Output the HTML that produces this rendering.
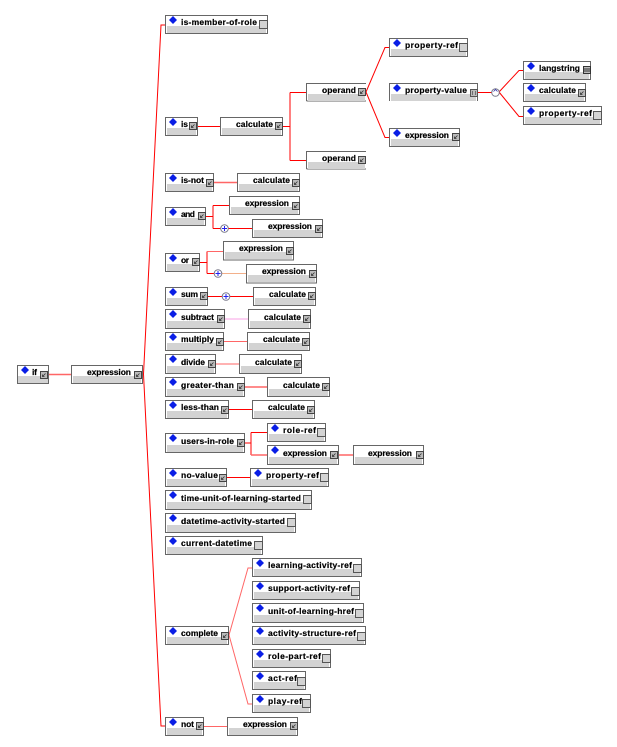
<!DOCTYPE html>
<html><head><meta charset="utf-8"><style>
html,body{margin:0;padding:0;background:#fff}
svg{display:block;filter:blur(.35px)}
text{font:bold 8.5px "Liberation Sans",sans-serif;fill:#000;stroke:#000;stroke-width:.2px}
.n{fill:#fff;stroke:#666;stroke-width:1}
.g{fill:#d3d3d3}
.c{fill:none;stroke:#f00;stroke-width:1}
.p{fill:none;stroke:#f66;stroke-width:1.5}
</style></head><body>
<svg width="617" height="747" viewBox="0 0 617 747" xmlns="http://www.w3.org/2000/svg">
<defs>
<path id="d" d="M0-4L4 0L0 4L-4 0Z" fill="#0a1ee6"/>
<g id="b"><rect x=".5" y=".5" width="7" height="7" fill="#bbb" stroke="#444"/><path d="M2.5 5.5L5.5 2.5M2.5 3.5V5.5H4.5" fill="none" stroke="#333" stroke-width=".8"/></g>
<g id="l"><rect x=".5" y=".5" width="8" height="8" fill="#d3d3d3" stroke="#555"/></g>
<g id="o"><circle r="3.8" fill="#fff" stroke="#778"/><path d="M-2.5 0H2.5M0-2.5V2.5" stroke="#22e" stroke-width="1"/></g>
</defs>

<!-- connectors -->
<path class="c" d="M165 25H161L143.5 374L161 726H165"/>
<path class="p" d="M48 374.500H71"/>
<path class="c" d="M198 126.500H220M283 126.500H290M290 92.500H306M290 160.500H306M290 92.500V160.500"/>
<path class="c" d="M366 92L385 47.500H389M366 92L385 137.500H389"/>
<path class="c" d="M478 92.500H492"/>
<path class="c" d="M499 92L519 70.500H523M499 92L519 116.500H523"/>
<path class="p" d="M214 182.500H237"/>
<path class="c" d="M206 216.500H213M213 205.500V228.500M213 205.500H229M213 228.500H252"/>
<path class="c" d="M200 262.500H207M207 251.500V273.500M207 273.500H214"/>
<path fill="none" stroke="#f66" d="M207 251.500H223"/>
<path fill="none" stroke="#f3b08a" d="M222 273.500H246"/>
<path class="c" d="M208 296.500H253"/>
<path fill="none" stroke="#fbc0ee" stroke-width="1.500" d="M225 319H248"/>
<path fill="none" stroke="#f66" d="M224 341.500H247"/>
<path fill="none" stroke="#f66" d="M216 364H239"/>
<path class="p" d="M245 387H267"/>
<path class="c" d="M229 409.500H252"/>
<path class="c" d="M245 443H251M251 432.500V455M251 432.500H267"/>
<path class="p" d="M251 455H267M339 455H353"/>
<path class="c" d="M227 477.500H250"/>
<path fill="none" stroke="#f66" d="M229 635L248 568H252M229 635L248 704H252"/>
<path fill="none" stroke="#f66" d="M204 726.500H227"/>
<use href="#o" x="224.500" y="228.500"/>
<use href="#o" x="218" y="273.500"/>
<use href="#o" x="226" y="296.500"/>
<circle cx="495.500" cy="92.500" r="3.800" fill="#fff" stroke="#778"/>
<path d="M493.500 91.500L495.500 89.500L497.500 91.500" fill="none" stroke="#33a" stroke-width=".8"/>

<!-- nodes -->
<g transform="translate(17,365)"><rect class="n" x=".5" y=".5" width="31" height="18"/><rect class="g" x="1" y="11" width="30" height="7"/><use href="#d" x="8" y="5"/><text x="15" y="10" textLength="5">if</text><use href="#b" x="23" y="6"/></g>
<g transform="translate(71,365)"><rect class="n" x=".5" y=".5" width="71" height="18"/><rect class="g" x="2" y="11" width="68" height="7"/><text x="16" y="10" textLength="44">expression</text><use href="#b" x="63" y="6"/></g>

<g transform="translate(165,15)"><rect class="n" x=".5" y=".5" width="102" height="18"/><rect class="g" x="2" y="11" width="99" height="7"/><use href="#d" x="8" y="5"/><text x="16" y="10" textLength="76">is-member-of-role</text><use href="#l" x="94" y="5"/></g>
<g transform="translate(165,117)"><rect class="n" x=".5" y=".5" width="32" height="18"/><rect class="g" x="2" y="11" width="29" height="7"/><use href="#d" x="8" y="5"/><text x="16" y="10" textLength="7">is</text><use href="#b" x="24" y="5"/></g>
<g transform="translate(220,117)"><rect class="n" x=".5" y=".5" width="62" height="18"/><rect class="g" x="2" y="11" width="59" height="7"/><text x="16" y="10" textLength="37">calculate</text><use href="#b" x="55" y="5"/></g>
<g transform="translate(306,83)"><path class="n" d="M60 .5H.5V18M60 18H.5"/><rect class="g" x="2" y="11" width="57" height="7"/><text x="16" y="10" textLength="34">operand</text><use href="#b" x="52" y="5"/></g>
<g transform="translate(306,151)"><path class="n" d="M60 .5H.5V18M60 18H.5"/><rect class="g" x="2" y="11" width="57" height="7"/><text x="16" y="10" textLength="34">operand</text><use href="#b" x="52" y="5"/></g>
<g transform="translate(389,38)"><rect class="n" x=".5" y=".5" width="78" height="18"/><rect class="g" x="2" y="11" width="75" height="7"/><use href="#d" x="8" y="5"/><text x="16" y="10" textLength="53">property-ref</text><use href="#l" x="70" y="5"/></g>
<g transform="translate(389,83)"><path class="n" d="M88.500 18V.5H.5V18"/><rect class="g" x="2" y="11" width="85" height="7"/><use href="#d" x="8" y="5"/><text x="16" y="10" textLength="62">property-value</text><rect x="81.500" y="6.500" width="7" height="7" fill="#bbb" stroke="#555"/><path d="M83 9h1M86 9h1M83 11h1M86 11h1" stroke="#222"/></g>
<g transform="translate(389,128)"><rect class="n" x=".5" y=".5" width="70" height="18"/><rect class="g" x="2" y="11" width="67" height="7"/><use href="#d" x="8" y="5"/><text x="16" y="10" textLength="44">expression</text><use href="#b" x="63" y="5"/></g>
<g transform="translate(523,61)"><rect class="n" x=".5" y=".5" width="67" height="18"/><rect class="g" x="2" y="11" width="64" height="7"/><use href="#d" x="8" y="5"/><text x="16" y="10" textLength="41">langstring</text><rect x="60.500" y="5.500" width="7" height="7" fill="#bbb" stroke="#333"/><path d="M60 8h8M60 10h8" stroke="#333"/></g>
<g transform="translate(523,83)"><rect class="n" x=".5" y=".5" width="62" height="18"/><rect class="g" x="2" y="11" width="59" height="7"/><use href="#d" x="8" y="5"/><text x="16" y="10" textLength="37">calculate</text><use href="#b" x="55" y="6"/></g>
<g transform="translate(523,106)"><rect class="n" x=".5" y=".5" width="78" height="18"/><rect class="g" x="2" y="11" width="75" height="7"/><use href="#d" x="8" y="5"/><text x="16" y="10" textLength="53">property-ref</text><use href="#l" x="70" y="5"/></g>

<g transform="translate(165,173)"><rect class="n" x=".5" y=".5" width="48" height="18"/><rect class="g" x="2" y="11" width="45" height="7"/><use href="#d" x="8" y="5"/><text x="16" y="10" textLength="23">is-not</text><use href="#b" x="41" y="6"/></g>
<g transform="translate(237,173)"><rect class="n" x=".5" y=".5" width="62" height="18"/><rect class="g" x="2" y="11" width="59" height="7"/><text x="16" y="10" textLength="37">calculate</text><use href="#b" x="55" y="6"/></g>
<g transform="translate(165,207)"><rect class="n" x=".5" y=".5" width="40" height="18"/><rect class="g" x="2" y="11" width="37" height="7"/><use href="#d" x="8" y="5"/><text x="16" y="10" textLength="14">and</text><use href="#b" x="33" y="5"/></g>
<g transform="translate(229,196)"><rect class="n" x=".5" y=".5" width="70" height="18"/><rect class="g" x="2" y="11" width="67" height="7"/><text x="16" y="10" textLength="44">expression</text><use href="#b" x="63" y="6"/></g>
<g transform="translate(252,219)"><rect class="n" x=".5" y=".5" width="70" height="18"/><rect class="g" x="2" y="11" width="67" height="7"/><text x="16" y="10" textLength="44">expression</text><use href="#b" x="63" y="6"/></g>
<g transform="translate(165,253)"><rect class="n" x=".5" y=".5" width="34" height="18"/><rect class="g" x="2" y="11" width="31" height="7"/><use href="#d" x="8" y="5"/><text x="16" y="10" textLength="8">or</text><use href="#b" x="27" y="5"/></g>
<g transform="translate(223,241)"><rect class="n" x=".5" y=".5" width="70" height="18.500"/><rect class="g" x="2" y="11" width="67" height="7"/><text x="16" y="10" textLength="44">expression</text><use href="#b" x="63" y="6"/></g>
<g transform="translate(246,264)"><rect class="n" x=".5" y=".5" width="70" height="18.500"/><rect class="g" x="2" y="11" width="67" height="7"/><text x="16" y="10" textLength="44">expression</text><use href="#b" x="63" y="6"/></g>
<g transform="translate(165,287)"><rect class="n" x=".5" y=".5" width="42" height="18"/><rect class="g" x="2" y="11" width="39" height="7"/><use href="#d" x="8" y="5"/><text x="16" y="10" textLength="17">sum</text><use href="#b" x="35" y="5"/></g>
<g transform="translate(253,287)"><rect class="n" x=".5" y=".5" width="62" height="18"/><rect class="g" x="2" y="11" width="59" height="7"/><text x="16" y="10" textLength="37">calculate</text><use href="#b" x="55" y="5"/></g>
<g transform="translate(165,309)"><rect class="n" x=".5" y=".5" width="59" height="19"/><rect class="g" x="2" y="12" width="56" height="7"/><use href="#d" x="8" y="5"/><text x="16" y="11" textLength="33">subtract</text><use href="#b" x="52" y="6"/></g>
<g transform="translate(248,309)"><rect class="n" x=".5" y=".5" width="62" height="19"/><rect class="g" x="2" y="12" width="59" height="7"/><text x="16" y="11" textLength="37">calculate</text><use href="#b" x="55" y="6"/></g>
<g transform="translate(165,332)"><rect class="n" x=".5" y=".5" width="58" height="18"/><rect class="g" x="2" y="11" width="55" height="7"/><use href="#d" x="8" y="5"/><text x="16" y="10" textLength="33">multiply</text><use href="#b" x="51" y="6"/></g>
<g transform="translate(247,332)"><rect class="n" x=".5" y=".5" width="62" height="18"/><rect class="g" x="2" y="11" width="59" height="7"/><text x="16" y="10" textLength="37">calculate</text><use href="#b" x="55" y="6"/></g>
<g transform="translate(165,354)"><rect class="n" x=".5" y=".5" width="50" height="19"/><rect class="g" x="2" y="12" width="47" height="7"/><use href="#d" x="8" y="5"/><text x="16" y="11" textLength="24">divide</text><use href="#b" x="43" y="6"/></g>
<g transform="translate(239,354)"><rect class="n" x=".5" y=".5" width="62" height="19"/><rect class="g" x="2" y="12" width="59" height="7"/><text x="16" y="11" textLength="37">calculate</text><use href="#b" x="55" y="6"/></g>
<g transform="translate(165,377)"><rect class="n" x=".5" y=".5" width="79" height="19"/><rect class="g" x="2" y="12" width="76" height="7"/><use href="#d" x="8" y="5"/><text x="16" y="11" textLength="53">greater-than</text><use href="#b" x="72" y="6"/></g>
<g transform="translate(267,377)"><rect class="n" x=".5" y=".5" width="62" height="19"/><rect class="g" x="2" y="12" width="59" height="7"/><text x="16" y="11" textLength="37">calculate</text><use href="#b" x="55" y="6"/></g>
<g transform="translate(165,400)"><rect class="n" x=".5" y=".5" width="63" height="18"/><rect class="g" x="2" y="11" width="60" height="7"/><use href="#d" x="8" y="5"/><text x="16" y="10" textLength="38">less-than</text><use href="#b" x="56" y="6"/></g>
<g transform="translate(252,400)"><rect class="n" x=".5" y=".5" width="62" height="18"/><rect class="g" x="2" y="11" width="59" height="7"/><text x="16" y="10" textLength="37">calculate</text><use href="#b" x="55" y="6"/></g>
<g transform="translate(165,433)"><rect class="n" x=".5" y=".5" width="79" height="19"/><rect class="g" x="2" y="12" width="76" height="7"/><use href="#d" x="8" y="5"/><text x="16" y="11" textLength="53">users-in-role</text><use href="#b" x="72" y="6"/></g>
<g transform="translate(267,423)"><rect class="n" x=".5" y=".5" width="58" height="18"/><rect class="g" x="2" y="11" width="55" height="7"/><use href="#d" x="8" y="5"/><text x="16" y="10" textLength="33">role-ref</text><use href="#l" x="50" y="5"/></g>
<g transform="translate(267,445)"><rect class="n" x=".5" y=".5" width="71" height="19"/><rect class="g" x="2" y="12" width="68" height="7"/><use href="#d" x="8" y="5"/><text x="16" y="11" textLength="44">expression</text><use href="#b" x="63" y="6"/></g>
<g transform="translate(353,445)"><rect class="n" x=".5" y=".5" width="70" height="19"/><rect class="g" x="2" y="12" width="67" height="7"/><text x="15" y="11" textLength="44">expression</text><use href="#b" x="63" y="6"/></g>
<g transform="translate(165,468)"><rect class="n" x=".5" y=".5" width="61" height="18"/><rect class="g" x="2" y="11" width="58" height="7"/><use href="#d" x="8" y="5"/><text x="16" y="10" textLength="37">no-value</text><use href="#b" x="54" y="6"/></g>
<g transform="translate(250,468)"><rect class="n" x=".5" y=".5" width="78" height="18"/><rect class="g" x="2" y="11" width="75" height="7"/><use href="#d" x="8" y="5"/><text x="16" y="10" textLength="53">property-ref</text><use href="#l" x="70" y="5"/></g>
<g transform="translate(165,490)"><rect class="n" x=".5" y=".5" width="146" height="19"/><rect class="g" x="2" y="12" width="143" height="7"/><use href="#d" x="8" y="5"/><text x="16" y="11" textLength="120">time-unit-of-learning-started</text><use href="#l" x="138" y="5"/></g>
<g transform="translate(165,513)"><rect class="n" x=".5" y=".5" width="130" height="19"/><rect class="g" x="2" y="12" width="127" height="7"/><use href="#d" x="8" y="5"/><text x="16" y="11" textLength="104">datetime-activity-started</text><use href="#l" x="122" y="5"/></g>
<g transform="translate(165,536)"><rect class="n" x=".5" y=".5" width="97" height="18"/><rect class="g" x="2" y="11" width="94" height="7"/><use href="#d" x="8" y="5"/><text x="16" y="10" textLength="71">current-datetime</text><use href="#l" x="89" y="5"/></g>
<g transform="translate(165,626)"><rect class="n" x=".5" y=".5" width="63" height="18"/><rect class="g" x="2" y="11" width="60" height="7"/><use href="#d" x="8" y="5"/><text x="16" y="10" textLength="37">complete</text><use href="#b" x="56" y="6"/></g>
<g transform="translate(252,558)"><rect class="n" x=".5" y=".5" width="109" height="18"/><rect class="g" x="2" y="11" width="106" height="7"/><use href="#d" x="8" y="5"/><text x="16" y="10" textLength="84">learning-activity-ref</text><use href="#l" x="101" y="6"/></g>
<g transform="translate(252,581)"><rect class="n" x=".5" y=".5" width="107" height="18"/><rect class="g" x="2" y="11" width="104" height="7"/><use href="#d" x="8" y="5"/><text x="16" y="10" textLength="82">support-activity-ref</text><use href="#l" x="99" y="6"/></g>
<g transform="translate(252,603)"><rect class="n" x=".5" y=".5" width="111" height="19"/><rect class="g" x="2" y="12" width="108" height="7"/><use href="#d" x="8" y="5"/><text x="16" y="11" textLength="86">unit-of-learning-href</text><use href="#l" x="103" y="6"/></g>
<g transform="translate(252,626)"><rect class="n" x=".5" y=".5" width="113" height="18"/><rect class="g" x="2" y="11" width="110" height="7"/><use href="#d" x="8" y="5"/><text x="16" y="10" textLength="88">activity-structure-ref</text><use href="#l" x="105" y="6"/></g>
<g transform="translate(252,649)"><rect class="n" x=".5" y=".5" width="78" height="18"/><rect class="g" x="2" y="11" width="75" height="7"/><use href="#d" x="8" y="5"/><text x="16" y="10" textLength="53">role-part-ref</text><use href="#l" x="70" y="5"/></g>
<g transform="translate(252,671)"><rect class="n" x=".5" y=".5" width="53" height="18"/><rect class="g" x="2" y="11" width="50" height="7"/><use href="#d" x="8" y="5"/><text x="16" y="10" textLength="29">act-ref</text><use href="#l" x="45" y="6"/></g>
<g transform="translate(252,694)"><rect class="n" x=".5" y=".5" width="58" height="18"/><rect class="g" x="2" y="11" width="55" height="7"/><use href="#d" x="8" y="5"/><text x="16" y="10" textLength="34">play-ref</text><use href="#l" x="50" y="5"/></g>
<g transform="translate(165,717)"><rect class="n" x=".5" y=".5" width="38" height="18"/><rect class="g" x="2" y="11" width="35" height="7"/><use href="#d" x="8" y="5"/><text x="16" y="10" textLength="13">not</text><use href="#b" x="31" y="5"/></g>
<g transform="translate(227,717)"><rect class="n" x=".5" y=".5" width="70" height="18"/><rect class="g" x="2" y="11" width="67" height="7"/><text x="16" y="10" textLength="44">expression</text><use href="#b" x="63" y="5"/></g>
</svg>
</body></html>
